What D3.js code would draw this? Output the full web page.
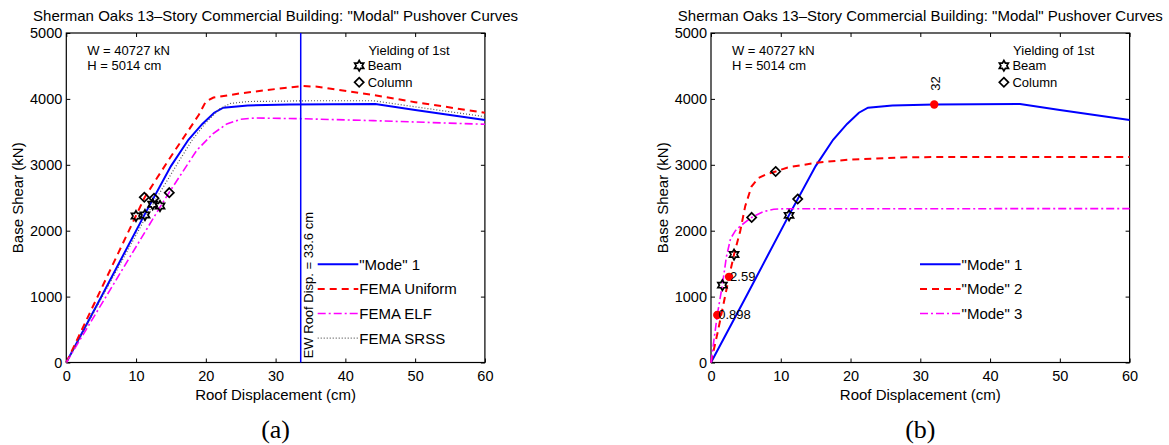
<!DOCTYPE html>
<html>
<head>
<meta charset="utf-8">
<script src="https://cdnjs.cloudflare.com/ajax/libs/d3/7.8.5/d3.min.js"></script>
<style>
  body { margin: 0; background: #fff; }
  svg text { font-family: "Liberation Sans", Arial, Helvetica, sans-serif; fill: #000; }
</style>
</head>
<body>
<div id="chart"></div>
<script>

// axis ticks
var dispTicks = [0, 10, 20, 30, 40, 50, 60];
var shearTicks = [0, 1000, 2000, 3000, 4000, 5000];

// "Mode" 1 pushover curve (same in both panels)
var mode1Disp  = [0, 5, 11.2, 15, 17.5, 19.5, 21.2, 22.5, 26, 32, 44.3, 50, 60];
var mode1Shear = [0, 995, 2240, 2980, 3380, 3620, 3790, 3866, 3900, 3916, 3921, 3833, 3680];

// FEMA curves (panel a)
var uniformDisp  = [0, 10, 11.2, 13, 15.3, 17.5, 19, 20, 21.1, 25, 30, 34, 36, 44, 50, 60];
var uniformShear = [0, 2230, 2500, 2800, 3175, 3520, 3760, 3960, 4020, 4085, 4150, 4195, 4185, 4060, 3950, 3790];
var elfDisp  = [0, 13.5, 14.8, 18.7, 21, 23, 25, 27, 33.5, 44, 60];
var elfShear = [0, 2370, 2590, 3220, 3470, 3620, 3690, 3710, 3700, 3670, 3615];
var srssDisp  = [0, 12.4, 16, 18, 20, 22, 23.5, 26, 35, 44, 50, 60];
var srssShear = [0, 2400, 3030, 3370, 3640, 3850, 3930, 3960, 3972, 3972, 3880, 3730];

// higher "modes" (panel b)
var mode2Disp  = [0, 1, 2.59, 3.3, 4.2, 4.9, 5.8, 6.8, 8, 9.27, 11, 15, 20, 28, 40, 60];
var mode2Shear = [0, 480, 1300, 1638, 2000, 2370, 2670, 2800, 2860, 2898, 2960, 3030, 3080, 3115, 3120, 3120];
var mode3Disp  = [0, 0.898, 1.63, 2.2, 2.8, 3.5, 4.3, 5.83, 7.5, 9, 10.5, 60];
var mode3Shear = [0, 721, 1174, 1600, 1880, 2000, 2080, 2202, 2290, 2325, 2333, 2335];

// first yielding points
var beamDispA  = [9.99, 11.28, 12.38, 13.43];
var beamShearA = [2223, 2238, 2401, 2375];
var colDispA   = [11.18, 12.57, 14.76];
var colShearA  = [2507, 2492, 2577];
var beamDispB  = [1.63, 3.3, 11.19];
var beamShearB = [1174, 1638, 2233];
var colDispB   = [5.83, 9.27, 12.43];
var colShearB  = [2202, 2898, 2480];

// target roof displacements (panel b)
var peakDisp   = [0.898, 2.59, 32];
var peakShear  = [721, 1300, 3916];
var peakLabels = ["0.898", "2.59", "32"];

var ewRoofDisp = 33.6;

var titleText = "Sherman Oaks 13\u2013Story Commercial Building: \"Modal\" Pushover Curves";

// sizes
var width = 1169,
    height = 445,
    plotTop = 33,
    plotW = 418.6,
    plotH = 329.5;

var svg = d3.select("#chart").append("svg")
    .attr("width", width)
    .attr("height", height);

function zipXY(xs, ys) {
  return xs.map(function(v, i) { return [v, ys[i]]; });
}

// 6 pointed star (MATLAB hexagram)
function hexagram(r) {
  var pts = [];
  for (var i = 0; i < 12; i++) {
    var a = -Math.PI / 2 + i * Math.PI / 6;
    var rr = (i % 2 == 0) ? r : r / Math.sqrt(3);
    pts.push([rr * Math.cos(a), rr * Math.sin(a)]);
  }
  return "M" + pts.join("L") + "Z";
}
function diamond(s) {
  return "M0," + (-s) + "L" + s + ",0L0," + s + "L" + (-s) + ",0Z";
}

function drawPanel(left, series, beams, cols, legendX, caption) {
  var g = svg.append("g").attr("transform", "translate(" + left + "," + plotTop + ")");

  var x = d3.scaleLinear().domain([0, 60]).range([0, plotW]);
  var y = d3.scaleLinear().domain([0, 5000]).range([plotH, 0]);

  // axes, ticks inward on all sides
  var ax = [
    d3.axisBottom(x).tickValues(dispTicks).tickSize(-4).tickPadding(8).tickFormat(d3.format("d")),
    d3.axisTop(x).tickValues(dispTicks).tickSize(-4).tickFormat(""),
    d3.axisLeft(y).tickValues(shearTicks).tickSize(-4).tickPadding(4).tickFormat(d3.format("d")),
    d3.axisRight(y).tickValues(shearTicks).tickSize(-4).tickFormat("")
  ];
  var pos = ["0," + plotH, "0,0", "0,0", plotW + ",0"];
  ax.forEach(function(a, i) {
    var ag = g.append("g").attr("transform", "translate(" + pos[i] + ")").call(a);
    ag.select(".domain").remove();
    ag.selectAll("line").attr("stroke", "#000");
    ag.selectAll("text").style("font-size", "14.5px").attr("fill", "#000");
  });

  g.append("rect")
    .attr("width", plotW).attr("height", plotH)
    .attr("fill", "none").attr("stroke", "#000").attr("stroke-width", 1.2);

  var line = d3.line()
    .x(function(d) { return x(d[0]); })
    .y(function(d) { return y(d[1]); });

  series.forEach(function(s) {
    g.append("path")
      .datum(zipXY(s.xs, s.ys))
      .attr("d", line)
      .attr("fill", "none")
      .attr("stroke", s.color)
      .attr("stroke-width", s.width)
      .attr("stroke-dasharray", s.dash);
  });

  // first yield markers
  g.selectAll(".beam")
    .data(zipXY(beams[0], beams[1]))
    .enter().append("path")
      .attr("d", hexagram(5.2))
      .attr("transform", function(d) { return "translate(" + x(d[0]) + "," + y(d[1]) + ")"; })
      .attr("fill", "none").attr("stroke", "#000").attr("stroke-width", 1.7);
  g.selectAll(".col")
    .data(zipXY(cols[0], cols[1]))
    .enter().append("path")
      .attr("d", diamond(4.6))
      .attr("transform", function(d) { return "translate(" + x(d[0]) + "," + y(d[1]) + ")"; })
      .attr("fill", "none").attr("stroke", "#000").attr("stroke-width", 1.7);

  // legend
  series.forEach(function(s, i) {
    var ly = 231.3 + i * 24.6;
    g.append("line")
      .attr("x1", legendX).attr("x2", legendX + 40.6)
      .attr("y1", ly).attr("y2", ly)
      .attr("stroke", s.color)
      .attr("stroke-width", s.width)
      .attr("stroke-dasharray", s.dash);
    g.append("text")
      .attr("x", legendX + 41.6).attr("y", ly)
      .attr("dy", "0.36em")
      .style("font-size", "15px")
      .text(s.name);
  });

  // info text
  var small = "13px";
  g.append("text").attr("x", x(3)).attr("y", y(4742)).attr("dy", "0.36em")
    .style("font-size", small).text("W = 40727 kN");
  g.append("text").attr("x", x(3)).attr("y", y(4504)).attr("dy", "0.36em")
    .style("font-size", small).text("H = 5014 cm");
  g.append("text").attr("x", x(43.3)).attr("y", y(4742)).attr("dy", "0.36em")
    .style("font-size", small).text("Yielding of 1st");
  g.append("path").attr("d", hexagram(5.2))
    .attr("transform", "translate(" + x(41.98) + "," + y(4504) + ")")
    .attr("fill", "none").attr("stroke", "#000").attr("stroke-width", 1.7);
  g.append("text").attr("x", x(43.2)).attr("y", y(4504)).attr("dy", "0.36em")
    .style("font-size", small).text("Beam");
  g.append("path").attr("d", diamond(4.6))
    .attr("transform", "translate(" + x(41.98) + "," + y(4252) + ")")
    .attr("fill", "none").attr("stroke", "#000").attr("stroke-width", 1.7);
  g.append("text").attr("x", x(43.2)).attr("y", y(4252)).attr("dy", "0.36em")
    .style("font-size", small).text("Column");

  // titles and labels
  g.append("text")
    .attr("x", plotW / 2).attr("y", -12.5)
    .attr("text-anchor", "middle")
    .style("font-size", "15px")
    .text(titleText);
  g.append("text")
    .attr("x", plotW / 2).attr("y", plotH + 37)
    .attr("text-anchor", "middle")
    .style("font-size", "15px")
    .text("Roof Displacement (cm)");
  g.append("text")
    .attr("transform", "translate(-43," + (plotH / 2) + ") rotate(-90)")
    .attr("text-anchor", "middle")
    .style("font-size", "15px")
    .text("Base Shear (kN)");
  g.append("text")
    .attr("x", plotW / 2).attr("y", 405)
    .attr("text-anchor", "middle")
    .style("font-family", "'Liberation Serif', 'Times New Roman', serif")
    .style("font-size", "26px")
    .text(caption);

  return { g: g, x: x, y: y };
}

// Panel (a)
var pa = drawPanel(66.3, [
  { name: "\"Mode\" 1",    xs: mode1Disp,   ys: mode1Shear,   color: "#0000ff", width: 2,   dash: null },
  { name: "FEMA Uniform", xs: uniformDisp, ys: uniformShear, color: "#ff0000", width: 2,   dash: "7,5" },
  { name: "FEMA ELF",     xs: elfDisp,     ys: elfShear,     color: "#ff00ff", width: 1.6, dash: "8,3,2,3" },
  { name: "FEMA SRSS",    xs: srssDisp,    ys: srssShear,    color: "#555555", width: 1.2, dash: "1,2" }
], [beamDispA, beamShearA], [colDispA, colShearA], 251.4, "(a)");

// vertical line for EW roof displacement
pa.g.append("line")
  .attr("x1", pa.x(ewRoofDisp)).attr("x2", pa.x(ewRoofDisp))
  .attr("y1", 0).attr("y2", plotH)
  .attr("stroke", "#0000ff").attr("stroke-width", 1.5);
pa.g.append("text")
  .attr("transform", "translate(" + (pa.x(ewRoofDisp) + 12.3) + "," + (plotH - 4.2) + ") rotate(-90)")
  .style("font-size", "13px")
  .text("EW Roof Disp. = " + ewRoofDisp + " cm");

// Panel (b)
var pb = drawPanel(711, [
  { name: "\"Mode\" 1", xs: mode1Disp, ys: mode1Shear, color: "#0000ff", width: 2,   dash: null },
  { name: "\"Mode\" 2", xs: mode2Disp, ys: mode2Shear, color: "#ff0000", width: 2,   dash: "7,5" },
  { name: "\"Mode\" 3", xs: mode3Disp, ys: mode3Shear, color: "#ff00ff", width: 1.6, dash: "8,3,2,3" }
], [beamDispB, beamShearB], [colDispB, colShearB], 209, "(b)");

// red dots at the target displacements
pb.g.selectAll(".peak")
  .data(zipXY(peakDisp, peakShear))
  .enter().append("circle")
    .attr("cx", function(d) { return pb.x(d[0]); })
    .attr("cy", function(d) { return pb.y(d[1]); })
    .attr("r", 4.2)
    .attr("fill", "#ff0000");

peakDisp.forEach(function(v, i) {
  var px = pb.x(v), py = pb.y(peakShear[i]);
  if (i < 2) {
    pb.g.append("text")
      .attr("x", px + 1).attr("y", py - 1).attr("dy", "0.36em")
      .style("font-size", "13px")
      .text(peakLabels[i]);
  } else {
    pb.g.append("text")
      .attr("transform", "translate(" + (px + 5.7) + "," + (py - 13.6) + ") rotate(-90)")
      .style("font-size", "13px")
      .text(peakLabels[i]);
  }
});

</script>
</body>
</html>
